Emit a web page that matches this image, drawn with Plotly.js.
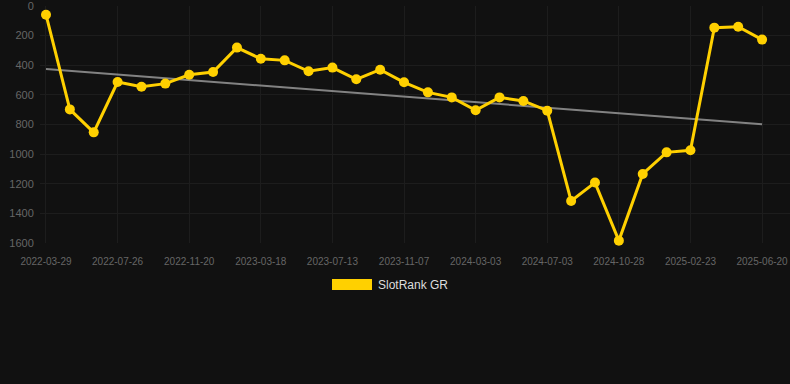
<!DOCTYPE html>
<html>
<head>
<meta charset="utf-8">
<script src="https://cdn.plot.ly/plotly-3.0.1.min.js"></script>
<style>
html,body{margin:0;padding:0;background:#111111;}
#chart{width:790px;height:384px;}
</style>
</head>
<body>
<div id="chart"></div>
<script>
var dates = [
  "2022-03-29","2022-05-08","2022-06-17","2022-07-26","2022-09-03","2022-10-12",
  "2022-11-20","2022-12-29","2023-02-07","2023-03-18","2023-04-26","2023-06-04",
  "2023-07-13","2023-08-21","2023-09-29","2023-11-07","2023-12-16","2024-01-24",
  "2024-03-03","2024-04-13","2024-05-23","2024-07-03","2024-08-10","2024-09-19",
  "2024-10-28","2024-12-06","2025-01-14","2025-02-23","2025-04-03","2025-05-12",
  "2025-06-20"
];
var ranks = [
  59, 698, 853, 513, 545, 524, 464, 446, 281, 356, 367,
  441, 416, 495, 430, 515, 583, 617, 704, 617, 641, 707,
  1316, 1192, 1584, 1134, 988, 974, 146, 140, 227
];
var seriesName = "SlotRank GR";
var tickLabels = dates.filter(function(d, i){ return i % 3 === 0; });
var yTicks = [0, 200, 400, 600, 800, 1000, 1200, 1400, 1600];

// least-squares trend line computed from the data
var n = ranks.length, sx = 0, sy = 0, sxx = 0, sxy = 0;
for (var i = 0; i < n; i++) { sx += i; sy += ranks[i]; sxx += i*i; sxy += i*ranks[i]; }
var slope = (n*sxy - sx*sy) / (n*sxx - sx*sx);
var icpt = (sy - slope*sx) / n;
var trend = ranks.map(function(v, i){ return icpt + slope*i; });

var yellow = "#ffd000";
var traces = [
  {
    x: dates, y: trend, type: "scatter", mode: "lines",
    line: {color: "rgba(150,150,150,0.85)", width: 2},
    hoverinfo: "skip", showlegend: false
  },
  {
    x: dates, y: ranks, type: "scatter", mode: "lines+markers", name: seriesName,
    line: {color: yellow, width: 3},
    marker: {color: yellow, size: 10},
    cliponaxis: false,
    showlegend: false
  }
];

var layout = {
  width: 790, height: 384,
  paper_bgcolor: "#111111", plot_bgcolor: "#111111",
  margin: {l: 40, r: 0, t: 6, b: 141},
  font: {family: "Liberation Sans, Arial, sans-serif", color: "#666666"},
  xaxis: {
    type: "category",
    range: [-0.251, 31.17],
    tickmode: "array", tickvals: tickLabels, ticktext: tickLabels,
    tickfont: {size: 10, color: "#666666"},
    showgrid: true, gridcolor: "#1d1d1d", gridwidth: 1,
    zeroline: false, showline: false,
    ticks: "outside", ticklen: 9, tickcolor: "rgba(0,0,0,0)",
    ticklabeloverflow: "allow",
    fixedrange: true
  },
  yaxis: {
    range: [1600, 0],
    tickmode: "array", tickvals: yTicks, ticktext: yTicks.map(String),
    tickfont: {size: 11, color: "#666666"},
    showgrid: true, gridcolor: "#1d1d1d", gridwidth: 1,
    zeroline: false, showline: false,
    ticks: "outside", ticklen: 3, tickcolor: "rgba(0,0,0,0)",
    ticklabeloverflow: "allow",
    fixedrange: true
  },
  shapes: [
    {type: "rect", xref: "paper", yref: "paper",
     x0: 292/750, x1: 332/750, y0: (243-290)/237, y1: (243-279)/237,
     fillcolor: yellow, line: {width: 0}}
  ],
  annotations: [
    {xref: "paper", yref: "paper", x: 336/750, y: (243-284.5)/237,
     xanchor: "left", yanchor: "middle", showarrow: false,
     text: seriesName, font: {size: 12, color: "#dddddd"}}
  ],
  showlegend: false
};

Plotly.newPlot("chart", traces, layout, {displayModeBar: false, staticPlot: true});
</script>
</body>
</html>
